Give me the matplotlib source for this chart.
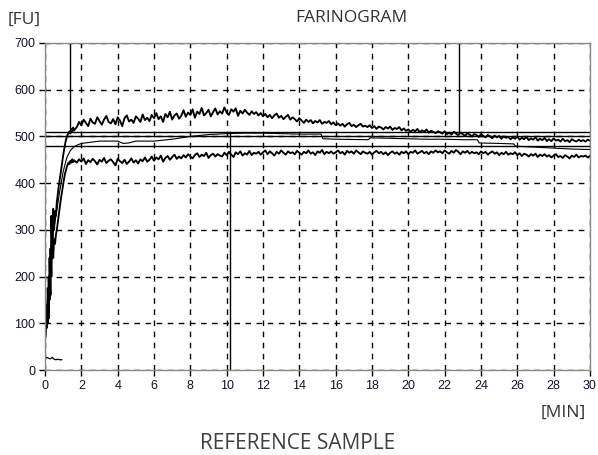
import numpy as np
import matplotlib
matplotlib.use('Agg')
from matplotlib import pyplot as plt

# --- data ---
# first 1.6 min, sampled every 0.05 min
t_start = [0.00, 0.05, 0.10, 0.15, 0.20, 0.25, 0.30, 0.35, 0.40, 0.45, 0.50,
           0.55, 0.60, 0.65, 0.70, 0.75, 0.80, 0.85, 0.90, 0.95, 1.00, 1.05,
           1.10, 1.15, 1.20, 1.25, 1.30, 1.35, 1.40, 1.45, 1.50, 1.55, 1.60]
upper_start = [65, 120, 90, 175, 110, 240, 160, 330, 250, 345, 300,
               340, 330, 360, 375, 392, 405, 418, 432, 446, 460, 472,
               483, 492, 499, 504, 508, 511, 506, 516, 509, 519, 513]
lower_start = [60, 90, 140, 100, 200, 150, 260, 200, 290, 240, 280,
               270, 290, 300, 315, 330, 345, 360, 372, 385, 398, 410,
               420, 428, 435, 440, 444, 441, 448, 444, 451, 445, 449]

# rest of the run, sampled every 0.125 min from 1.75 to 30 (one row = 2 min)
t_main = np.arange(1.75, 30.001, 0.125)
upper_main = [
    520, 531, 524, 536, 529, 522, 538, 530, 527, 541, 533, 525, 536, 544, 531, 528,
    537, 526, 541, 534, 522, 539, 545, 532, 536, 529, 543, 538, 531, 547, 535, 540,
    533, 546, 539, 550, 537, 543, 531, 548, 541, 553, 536, 545, 549, 538, 544, 556,
    542, 551, 546, 558, 540, 553, 548, 561, 545, 550, 557, 543, 552, 560, 547, 554,
    549, 562, 551, 546, 558, 553, 560, 544, 555, 549, 557, 551, 546, 554, 548, 552,
    545, 550, 543, 548, 541, 546, 539, 545, 549, 540, 544, 537, 542, 546, 536, 541,
    537, 532, 539, 534, 529, 536, 531, 535, 528, 533, 530, 535, 527, 531, 529, 533,
    526, 530, 524, 528, 523, 527, 521, 526, 529, 522, 525, 520, 524, 527, 521, 523,
    520, 524, 518, 522, 516, 521, 519, 515, 520, 517, 521, 514, 518, 516, 520, 513,
    517, 512, 515, 510, 514, 511, 516, 509, 513, 510, 515, 508, 512, 510, 507, 511,
    509, 506, 511, 505, 508, 504, 510, 506, 503, 508, 505, 501, 507, 504, 500, 505,
    503, 499, 505, 501, 498, 503, 500, 496, 502, 498, 501, 495, 500, 497, 499, 494,
    498, 495, 500, 493, 497, 494, 499, 492, 496, 493, 498, 491, 495, 492, 497, 490,
    494, 490, 496, 491, 493, 489, 495, 490, 492, 488, 494, 491, 489, 493, 490, 492,
    489, 493, 491]
lower_main = [
    444, 451, 446, 453, 441, 449, 445, 452, 447, 440, 450, 446, 454, 443, 448, 451,
    445, 438, 452, 447, 443, 450, 441, 446, 453, 444, 449, 442, 451, 447, 455, 446,
    450, 457, 448, 455, 451, 459, 446, 454, 458, 450, 456, 461, 452, 457, 453, 460,
    455, 462, 457, 453, 460, 464, 456, 461, 458, 465, 454, 460, 463, 457, 462, 459,
    457, 465, 460, 467, 461, 456, 466, 462, 468, 459, 464, 461, 469, 460, 465, 463,
    467, 461, 466, 470, 462, 468, 464, 459, 467, 463, 470, 465, 461, 468, 464, 466,
    462, 469, 465, 461, 467, 464, 470, 463, 466, 460, 468, 465, 471, 462, 467, 464,
    468, 463, 466, 470, 464, 467, 461, 469, 465, 468, 463, 470, 466, 462, 468, 465,
    463, 467, 461, 466, 469, 464, 467, 462, 466, 460, 465, 468, 463, 466, 461, 467,
    464, 468, 462, 467, 465, 470, 463, 466, 469, 464, 467, 462, 468, 465, 470, 466,
    468, 464, 470, 466, 463, 469, 465, 471, 467, 462, 468, 465, 469, 463, 467, 464,
    466, 462, 468, 464, 467, 461, 465, 468, 463, 466, 460, 465, 462, 467, 461, 464,
    462, 466, 460, 464, 458, 463, 461, 457, 462, 459, 463, 456, 461, 458, 462, 457,
    460, 455, 459, 462, 456, 458, 454, 460, 457, 453, 459, 456, 461, 455, 458, 457,
    459, 455, 458]

# smoothed middle curve
t_mid = [0.0, 0.2, 0.4, 0.6, 0.8, 1.0, 1.2, 1.4, 1.6, 1.8, 2.0, 3.0, 4.0,
         4.3, 4.6, 5.0, 6.0, 7.0, 8.0, 9.0, 10.0, 11.0, 12.0, 13.0, 14.0,
         15.2, 15.3, 16.0, 17.8, 17.9, 19.0, 20.0, 21.0, 22.0, 23.0, 23.8,
         23.9, 25.0, 25.8, 25.9, 27.0, 28.0, 29.0, 30.0]
mid_vals = [62, 170, 280, 330, 380, 425, 455, 470, 478, 482, 485, 490, 490,
            485, 486, 490, 490, 494, 500, 504, 506, 507, 507, 506, 505,
            505, 495, 494, 493, 497, 496, 495, 494, 494, 493, 493,
            486, 485, 484, 479, 477, 475, 473, 472]

# small trace near the baseline
t_base = [0.0, 0.1, 0.2, 0.3, 0.4, 0.5, 0.6, 0.7, 0.8, 0.92]
base_vals = [24, 27, 25, 24, 27, 23, 22, 23, 22, 22]

# marker lines
h_levels = [510, 500, 480]
v_top = [1.4, 22.8]     # from 510 up to 700
v_bottom = [10.2]       # from 510 down to 0

x_ticks = list(range(0, 31, 2))
y_ticks = list(range(0, 701, 100))

upper_t = list(t_start) + list(t_main)
upper_v = upper_start + upper_main
lower_t = list(t_start) + list(t_main)
lower_v = lower_start + lower_main

fig = plt.figure(figsize=(5.98, 4.55), dpi=100)
ax = fig.add_axes([0.0753, 0.1868, 0.9113, 0.7187])

ax.set_xlim(0, 30)
ax.set_ylim(0, 700)
ax.set_xticks(x_ticks)
ax.set_yticks(y_ticks)
ax.grid(True, color='black', linestyle=(0, (4, 4)), linewidth=1.0)
ax.set_axisbelow(True)

for s in ax.spines.values():
    s.set_color('#8a8a8a')
    s.set_linewidth(1.0)

ax.tick_params(axis='both', length=4, width=1, color='black',
               labelsize=9, labelcolor='#141430', pad=3)
for lab in ax.get_xticklabels() + ax.get_yticklabels():
    lab.set_fontfamily('Liberation Sans')

for h in h_levels:
    ax.axhline(h, color='black', linewidth=1.0)
for v in v_top:
    ax.plot([v, v], [510, 700], color='black', linewidth=1.0)
for v in v_bottom:
    ax.plot([v, v], [0, 510], color='black', linewidth=1.0)

ax.plot(upper_t, upper_v, color='black', linewidth=1.35)
ax.plot(lower_t, lower_v, color='black', linewidth=1.35)
ax.plot(t_mid, mid_vals, color='black', linewidth=0.8)
ax.plot(t_base, base_vals, color='black', linewidth=0.9)

txt = dict(family='Open Sans', color='#333333')
fig.text(0.013, 0.957, '[FU]', fontsize=12.5, ha='left', va='center', **txt)
fig.text(0.587, 0.96, 'FARINOGRAM', fontsize=12.5, ha='center', va='center', **txt)
fig.text(0.979, 0.092, '[MIN]', fontsize=12.5, ha='right', va='center', **txt)
fig.text(0.497, 0.026, 'REFERENCE SAMPLE', fontsize=15, ha='center', va='center',
         family='Open Sans', color='#404040')

fig.savefig('out.png', dpi=100)
